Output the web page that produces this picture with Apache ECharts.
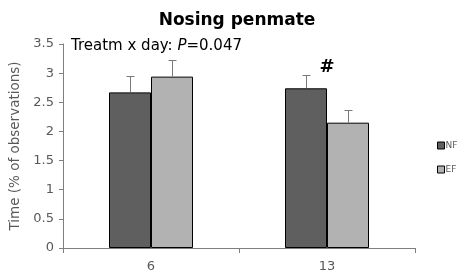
<!DOCTYPE html>
<html><head><meta charset="utf-8">
<script src="https://cdn.jsdelivr.net/npm/echarts@6/dist/echarts.min.js"></script>
<style>html,body{margin:0;padding:0;background:#fff}#c{width:459px;height:273px}</style>
</head><body><div id="c"></div>
<script>
const categories = ['6', '13'];
const nfMean = [2.67, 2.74];
const efMean = [2.94, 2.15];
const nfErr = [0.28, 0.23];
const efErr = [0.28, 0.21];
const catMarks = ['', '#'];
const yTicks = [0, 0.5, 1, 1.5, 2, 2.5, 3, 3.5];

const FONT = '"DejaVu Sans", Verdana, sans-serif';
const BW = 42;
function errSeries(name, means, errs, side, marks) {
  return {
    type: 'custom', name: name + ' err', silent: true, z: 5,
    data: means.map((m, i) => [i, m, m + errs[i]]),
    renderItem: function (params, api) {
      const i = api.value(0);
      const base = api.coord([i, api.value(1)]);
      const top = api.coord([i, api.value(2)]);
      const x = Math.round(base[0] + side * BW / 2) + 0.5;
      const yt = Math.round(top[1]) + 0.5;
      const children = [
        {type: 'line', shape: {x1: x, y1: base[1], x2: x, y2: yt}, style: {stroke: '#7a7a7a', lineWidth: 1}},
        {type: 'line', shape: {x1: x - 4, y1: yt, x2: x + 4, y2: yt}, style: {stroke: '#7a7a7a', lineWidth: 1}}
      ];
      if (marks && marks[params.dataIndex]) {
        children.push({type: 'text', x: base[0], y: top[1] + 1, style: {text: marks[params.dataIndex], font: 'bold 18px ' + FONT, fill: '#000', align: 'center', verticalAlign: 'bottom'}});
      }
      return {type: 'group', children: children};
    }
  };
}

const chart = echarts.init(document.getElementById('c'));
chart.setOption({
  animation: false,
  textStyle: {fontFamily: FONT},
  title: {text: 'Nosing penmate', left: 232, textAlign: 'center', top: 7,
    textStyle: {fontFamily: FONT, fontWeight: 'bold', fontSize: 17, color: '#000'}},
  grid: {left: 63, right: 44, top: 44, bottom: 25},
  legend: {orient: 'vertical', left: 437, top: 141, padding: 0, itemWidth: 7, itemHeight: 7, itemGap: 15, icon: 'rect',
    data: ['NF', 'EF'], itemStyle: {borderColor: '#000', borderWidth: 1},
    textStyle: {fontSize: 9, color: '#595959', fontFamily: FONT, padding: [0, 0, 0, -4]}},
  xAxis: {type: 'category', data: categories,
    axisLine: {lineStyle: {color: '#7f7f7f'}},
    axisTick: {show: true, alignWithLabel: false, length: 5, lineStyle: {color: '#7f7f7f'}},
    axisLabel: {fontSize: 13, color: '#595959', margin: 12, fontFamily: FONT}},
  yAxis: {type: 'value', min: 0, max: 3.5, interval: 0.5,
    name: 'Time (% of observations)', nameLocation: 'middle', nameGap: 39,
    nameTextStyle: {fontSize: 13.5, color: '#595959', fontFamily: FONT},
    axisLine: {show: true, lineStyle: {color: '#7f7f7f'}},
    axisTick: {show: true, length: 4, lineStyle: {color: '#7f7f7f'}},
    splitLine: {show: false},
    axisLabel: {fontSize: 13, color: '#595959', margin: 9, fontFamily: FONT,
      formatter: v => yTicks.indexOf(v) >= 0 ? String(v) : ''}},
  graphic: [{type: 'text', left: 71, top: 39,
    style: {rich: {a: {fontSize: 15, fontFamily: FONT, fill: '#000'}, p: {fontSize: 15, fontFamily: FONT, fontStyle: 'italic', fill: '#000'}},
      text: '{a|Treatm x day: }{p|P}{a|=0.047}'}}],
  series: [
    {name: 'NF', type: 'bar', data: nfMean, barWidth: BW, barGap: '0%',
      itemStyle: {color: '#5f5f5f', borderColor: '#000', borderWidth: 1}},
    {name: 'EF', type: 'bar', data: efMean, barWidth: BW, barGap: '0%',
      itemStyle: {color: '#b2b2b2', borderColor: '#000', borderWidth: 1}},
    errSeries('NF', nfMean, nfErr, -1, catMarks),
    errSeries('EF', efMean, efErr, 1, null)
  ]
});
</script></body></html>
